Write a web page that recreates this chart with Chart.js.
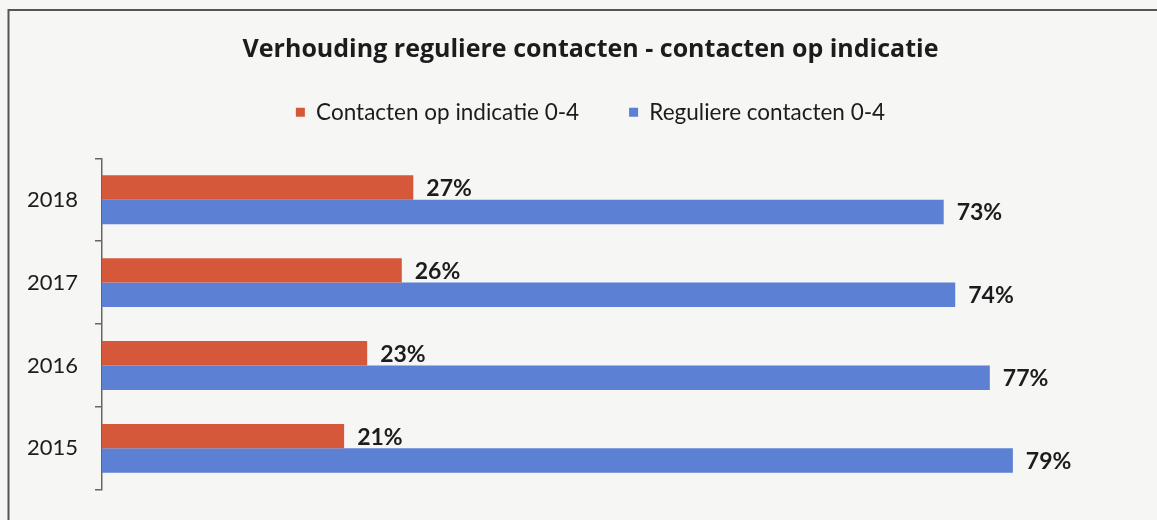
<!DOCTYPE html>
<html>
<head>
<meta charset="utf-8">
<script src="https://cdn.jsdelivr.net/npm/chart.js@4.4.1/dist/chart.umd.min.js"></script>
<style>
  html, body { margin: 0; padding: 0; background: #f6f6f5; }
  #wrap { position: relative; width: 1157px; height: 520px; }
</style>
</head>
<body>
<div id="wrap"><canvas id="c" width="1157" height="520"></canvas></div>
<script>
const categories = ['2018', '2017', '2016', '2015'];
const indicatieValues = [27, 26, 23, 21];
const reguliereValues = [73, 74, 77, 79];
const seriesNames = ['Contacten op indicatie 0-4', 'Reguliere contacten 0-4'];
const chartTitle = 'Verhouding reguliere contacten - contacten op indicatie';

const FONT = 'Lato, "Open Sans", sans-serif';
const TITLE_FONT = '"Open Sans", Lato, sans-serif';
const TEXT = '#1c1c1c';

const frame = {
  id: 'frame',
  beforeDraw(chart) {
    const ctx = chart.ctx;
    ctx.save();
    ctx.fillStyle = '#f6f6f5';
    ctx.fillRect(0, 0, chart.width, chart.height);
    ctx.strokeStyle = '#555';
    ctx.lineWidth = 2;
    ctx.beginPath();
    ctx.moveTo(8.5, chart.height);
    ctx.lineTo(8.5, 10);
    ctx.lineTo(chart.width, 10);
    ctx.stroke();
    ctx.restore();
  }
};

const legendGap = {
  id: 'legendGap',
  beforeInit(chart) {
    const fit = chart.legend.fit;
    chart.legend.fit = function () {
      fit.bind(chart.legend)();
      this.height += 24.75;
    };
  }
};

const valueLabels = {
  id: 'valueLabels',
  afterDatasetsDraw(chart) {
    const ctx = chart.ctx;
    ctx.save();
    ctx.font = 'bold 23px ' + FONT;
    ctx.fillStyle = TEXT;
    ctx.textAlign = 'left';
    ctx.textBaseline = 'middle';
    chart.data.datasets.forEach((ds, i) => {
      chart.getDatasetMeta(i).data.forEach((bar, j) => {
        ctx.fillText(ds.data[j] + '%', bar.x + 13, bar.y + 1);
      });
    });
    ctx.restore();
  }
};

new Chart(document.getElementById('c'), {
  type: 'bar',
  data: {
    labels: categories,
    datasets: [
      { label: seriesNames[0], data: indicatieValues, backgroundColor: '#d6583a' },
      { label: seriesNames[1], data: reguliereValues, backgroundColor: '#5b80d4' }
    ]
  },
  options: {
    indexAxis: 'y',
    responsive: false,
    animation: false,
    layout: { padding: { top: 0, left: 24, right: 0, bottom: 20 } },
    datasets: { bar: { categoryPercentage: 0.59, barPercentage: 1.0 } },
    scales: {
      x: { display: false, min: 0, max: 91.5 },
      y: {
        afterFit(scale) { scale.width = 78; },
        grid: { display: true, drawOnChartArea: false, drawTicks: true, tickLength: 7, offset: true, color: '#666', lineWidth: 1.5 },
        border: { display: true, color: '#666', width: 1.5 },
        ticks: { color: TEXT, font: { family: FONT, size: 22 }, padding: 17 }
      }
    },
    plugins: {
      title: {
        display: true,
        text: chartTitle,
        color: TEXT,
        font: { family: TITLE_FONT, size: 25, weight: 'bold', lineHeight: 1.2 },
        padding: { top: 34.5, bottom: -13.5 }
      },
      legend: {
        display: true,
        position: 'top',
        labels: {
          color: TEXT,
          font: { family: FONT, size: 22.5 },
          boxWidth: 9,
          boxHeight: 9,
          padding: 50
        }
      },
      tooltip: { enabled: false }
    }
  },
  plugins: [frame, legendGap, valueLabels]
});
</script>
</body>
</html>
